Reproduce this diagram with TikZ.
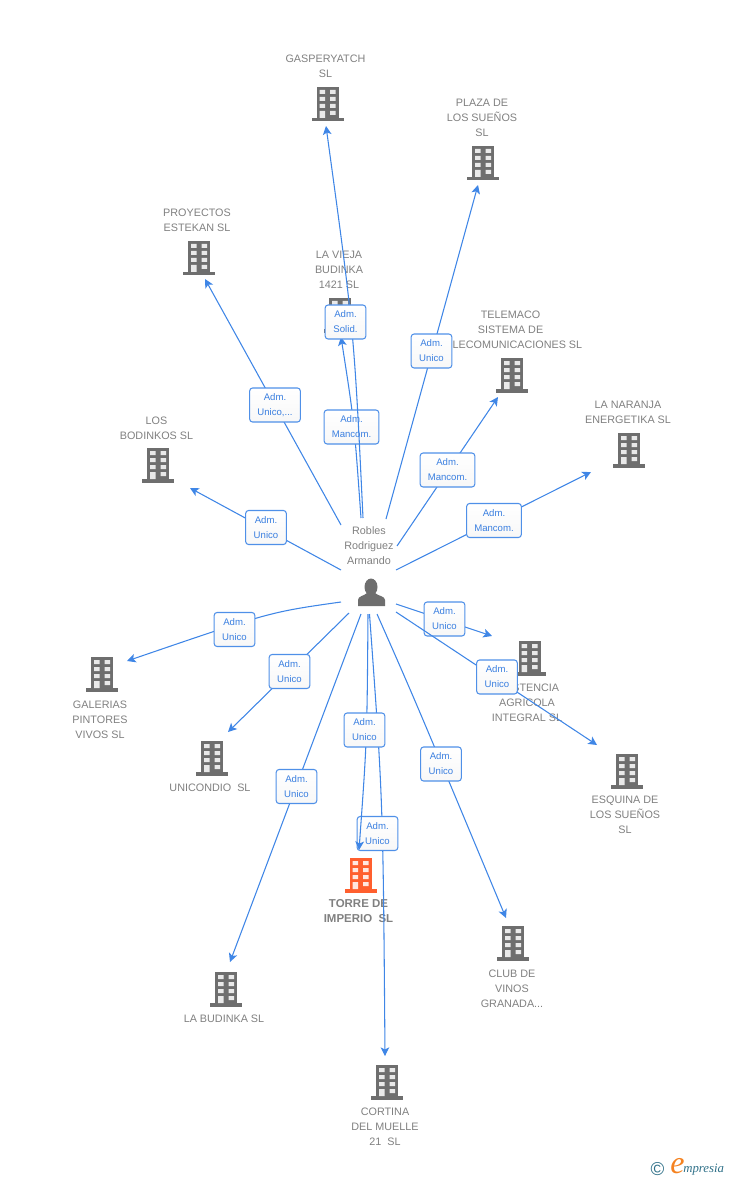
\documentclass[tikz,border=0pt]{standalone}
\usepackage{fontspec}
\setmainfont{Liberation Sans}
\newfontfamily\logofont{Liberation Serif}
\usetikzlibrary{arrows.meta}
\definecolor{edgeblue}{HTML}{3F86E6}
\definecolor{relblue}{HTML}{3A7FE0}
\definecolor{relborder}{HTML}{4F90E8}
\definecolor{nametext}{HTML}{808080}
\definecolor{bldgray}{HTML}{6E6E6E}
\definecolor{bldorange}{HTML}{FF5F2E}
\definecolor{logoteal}{HTML}{2F7088}
\definecolor{logoorange}{HTML}{F58220}
\tikzset{
  conn/.style={draw=edgeblue,line width=0.8pt},
  tipconn/.style={conn,-{Stealth[length=6.5pt,width=6.5pt,inset=1.6pt]}},
  reltag/.style={draw=relborder,line width=0.8pt,rounded corners=2.2pt,top color=white,bottom color=white!97!black,
    text=relblue,align=center,inner sep=0pt,minimum height=25.5pt,
    font=\fontsize{7.2}{11.25}\selectfont,execute at begin node={\rule{0pt}{6.7pt}}},
  nametag/.style={text=nametext,align=center,inner sep=0pt,font=\fontsize{8.1}{11.25}\selectfont},
  boldtag/.style={nametag,font=\fontsize{8.6}{11.25}\selectfont\bfseries}
}
\newcommand{\bld}[3]{%
  \begin{scope}[shift={(#1,#2)}]
    \fill[#3] (-11,0) rectangle (11,33);
    \fill[#3] (-16,31) rectangle (16,34.5);
    \fill[#3!15!white] (-8,3) rectangle (-2.5,7) (2.5,3) rectangle (8,7)
                 (-8,10) rectangle (-2.5,14) (2.5,10) rectangle (8,14)
                 (-8,17) rectangle (-2.5,21) (2.5,17) rectangle (8,21)
                 (-8,24) rectangle (-2.5,31) (2.5,24) rectangle (8,28);
  \end{scope}}
\begin{document}
\begin{tikzpicture}[x=0.75pt,y=-0.75pt]
\useasboundingbox (0,0) rectangle (728,1180);
% buildings
\bld{327.5}{87}{bldgray}
\bld{483}{146}{bldgray}
\bld{199}{241}{bldgray}
\bld{340}{298}{bldgray}
\bld{512}{358}{bldgray}
\bld{629}{433}{bldgray}
\bld{158}{448}{bldgray}
\bld{529.5}{641}{bldgray}
\bld{627}{754}{bldgray}
\bld{102}{657}{bldgray}
\bld{212}{741}{bldgray}
\bld{360.5}{858}{bldorange}
\bld{513}{926}{bldgray}
\bld{226}{972}{bldgray}
\bld{387}{1065}{bldgray}
% person icon
\fill[bldgray] (371,587) ellipse (6.5 and 8.5);
\fill[bldgray] (358,606) -- (358,600) .. controls (358,596) and (364,596) .. (367,593)
  -- (375,593) .. controls (378,596) and (385,596) .. (385,600) -- (385,606) -- cycle;
% names
\node[nametag] (n-gasper) at (325.5,66.5) {GASPERYATCH\\SL};
\node[nametag] (n-plaza) at (482,118) {PLAZA DE\\LOS SUEÑOS\\SL};
\node[nametag] (n-proy) at (197,220.5) {PROYECTOS\\ESTEKAN SL};
\node[nametag] (n-vieja) at (339,270) {LA VIEJA\\BUDINKA\\1421 SL};
\node[nametag] (n-tele) at (510.5,330) {TELEMACO\\SISTEMA DE\\TELECOMUNICACIONES SL};
\node[nametag] (n-naranja) at (628,412.5) {LA NARANJA\\ENERGETIKA SL};
\node[nametag] (n-bodinkos) at (156.5,428.5) {LOS\\BODINKOS SL};
\node[nametag] (n-robles) at (369,546) {Robles\\Rodriguez\\Armando};
\node[nametag] (n-galerias) at (100,720) {GALERIAS\\PINTORES\\VIVOS SL};
\node[nametag] (n-unicondio) at (210,788) {UNICONDIO\ \ SL};
\node[boldtag] (n-torre) at (358.5,911.5) {TORRE DE\\IMPERIO\ \ SL};
\node[nametag] (n-asist) at (527,703) {ASISTENCIA\\AGRICOLA\\INTEGRAL SL};
\node[nametag] (n-esquina) at (625,815) {ESQUINA DE\\LOS SUEÑOS\\SL};
\node[nametag] (n-club) at (512,989) {CLUB DE\\VINOS\\GRANADA...};
\node[nametag] (n-budinka) at (224,1019) {LA BUDINKA SL};
\node[nametag] (n-cortina) at (385,1127) {CORTINA\\DEL MUELLE\\21\ \ SL};
% free ends
\coordinate (s-gasper) at (363,518); \coordinate (t-gasper) at (326,126);
\coordinate (s-vieja) at (361,518); \coordinate (t-vieja) at (341,337);
\coordinate (s-plaza) at (386,519); \coordinate (t-plaza) at (478,185);
\coordinate (s-tele) at (397,546); \coordinate (t-tele) at (498,397);
\coordinate (s-naranja) at (396,570); \coordinate (t-naranja) at (591,472);
\coordinate (s-asist) at (396,604); \coordinate (t-asist) at (492,636);
\coordinate (s-esquina) at (396,612); \coordinate (t-esquina) at (597,745);
\coordinate (s-club) at (377,614); \coordinate (t-club) at (506,918);
\coordinate (s-cortina) at (369.5,614); \coordinate (t-cortina) at (385,1056);
\coordinate (s-torre) at (368,614); \coordinate (t-torre) at (359,850);
\coordinate (s-budinka) at (361,614); \coordinate (t-budinka) at (230,962);
\coordinate (s-unicondio) at (349,613); \coordinate (t-unicondio) at (228,732);
\coordinate (s-galerias) at (341,602); \coordinate (t-galerias) at (127,661);
\coordinate (s-bodinkos) at (341,570); \coordinate (t-bodinkos) at (190,488);
\coordinate (s-proy) at (341,525); \coordinate (t-proy) at (205,279);
% connectors with their tags
\draw[tipconn] (s-proy) -- (t-proy);
\node[reltag,minimum width=38pt] (r-proy) at (275,405) {Adm.\\Unico,...};
\draw[tipconn] (s-bodinkos) -- (t-bodinkos);
\node[reltag,minimum width=30.5pt] (r-bodinkos) at (266,527.5) {Adm.\\Unico};
\draw[tipconn] (s-vieja) .. controls (354,420) .. (t-vieja);
\node[reltag,minimum width=41pt] (r-vieja) at (351.5,427) {Adm.\\Mancom.};
\draw[tipconn] (s-gasper) .. controls (354,330) .. (t-gasper);
\node[reltag,minimum width=30.5pt] (r-gasper) at (345.5,322) {Adm.\\Solid.};
\draw[tipconn] (s-plaza) -- (t-plaza);
\node[reltag,minimum width=30.5pt] (r-plaza) at (431.5,351) {Adm.\\Unico};
\draw[tipconn] (s-tele) -- (t-tele);
\node[reltag,minimum width=41pt] (r-tele) at (447.5,470) {Adm.\\Mancom.};
\draw[tipconn] (s-naranja) -- (t-naranja);
\node[reltag,minimum width=41pt] (r-naranja) at (494,520.5) {Adm.\\Mancom.};
\draw[tipconn] (s-asist) -- (t-asist);
\node[reltag,minimum width=30.5pt] (r-asist) at (444.5,619) {Adm.\\Unico};
\draw[tipconn] (s-esquina) -- (t-esquina);
\node[reltag,minimum width=30.5pt] (r-esquina) at (497,677) {Adm.\\Unico};
\draw[tipconn] (s-club) .. controls (415,700) .. (t-club);
\node[reltag,minimum width=30.5pt] (r-club) at (441,764) {Adm.\\Unico};
\draw[tipconn] (s-cortina) .. controls (383,800) .. (t-cortina);
\node[reltag,minimum width=30.5pt] (r-cortina) at (377.5,833.5) {Adm.\\Unico};
\draw[tipconn] (s-torre) .. controls (367,740) .. (t-torre);
\node[reltag,minimum width=30.5pt] (r-torre) at (364.5,730) {Adm.\\Unico};
\draw[tipconn] (s-budinka) -- (t-budinka);
\node[reltag,minimum width=30.5pt] (r-budinka) at (296.5,786.5) {Adm.\\Unico};
\draw[tipconn] (s-unicondio) -- (t-unicondio);
\node[reltag,minimum width=30.5pt] (r-unicondio) at (289.5,671.5) {Adm.\\Unico};
\draw[tipconn] (s-galerias) .. controls (270,612) .. (t-galerias);
\node[reltag,minimum width=30.5pt] (r-galerias) at (234.5,629.5) {Adm.\\Unico};
% logo
\node[text=logoteal,inner sep=0pt,font=\fontsize{14}{14}\selectfont] (logo-c) at (657.5,1169) {©};
\node[text=logoorange,inner sep=0pt,font=\logofont\itshape\fontsize{24}{24}\selectfont] (logo-e) at (677.5,1166) {e};
\node[text=logoteal,inner sep=0pt,anchor=west,font=\logofont\itshape\fontsize{9.6}{10}\selectfont] (logo-t) at (683,1170) {mpresia};
\end{tikzpicture}
\end{document}
